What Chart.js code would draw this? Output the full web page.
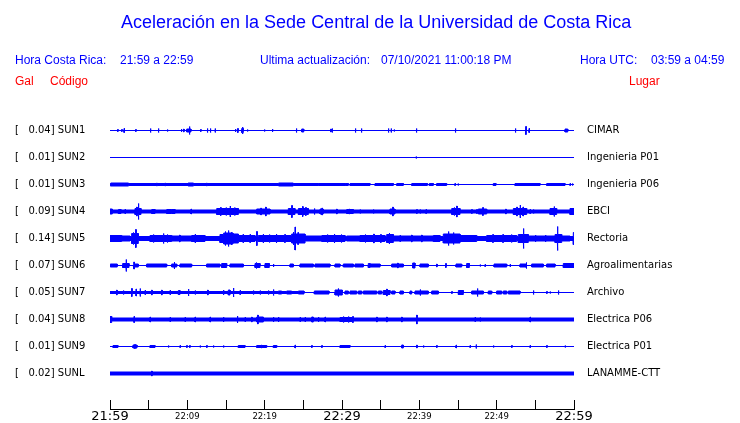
<!DOCTYPE html>
<html>
<head>
<meta charset="utf-8">
<script src="https://cdn.jsdelivr.net/npm/chart.js@4/dist/chart.umd.min.js"></script>
<style>
  body { margin: 0; background: #fff; }
  #wrap { position: relative; width: 740px; height: 423px; overflow: hidden; }
  #plot { position: absolute; left: 0; top: 0; }
  .t { position: absolute; white-space: nowrap; font-family: "Liberation Sans", Arial, sans-serif; line-height: 1; }
  .blue { color: #0000ff; }
  .red { color: #ff0000; }
  .s { font-size: 12px; }
</style>
</head>
<body>
<div id="wrap">
  <canvas id="plot" width="740" height="428"></canvas>
  <div class="t blue" style="left:121px; top:13px; font-size:18px;">Aceleración en la Sede Central de la Universidad de Costa Rica</div>
  <div class="t blue s" style="left:15px; top:54px;">Hora Costa Rica:</div>
  <div class="t blue s" style="left:120px; top:54px;">21:59 a 22:59</div>
  <div class="t blue s" style="left:260px; top:54px;">Ultima actualización:</div>
  <div class="t blue s" style="left:381px; top:54px;">07/10/2021 11:00:18 PM</div>
  <div class="t blue s" style="left:580px; top:54px;">Hora UTC:</div>
  <div class="t blue s" style="left:651px; top:54px;">03:59 a 04:59</div>
  <div class="t red s" style="left:15px; top:75px;">Gal</div>
  <div class="t red s" style="left:50px; top:75px;">Código</div>
  <div class="t red s" style="left:629px; top:75px;">Lugar</div>
</div>
<script>
// estaciones, de arriba hacia abajo
const stations = ['SUN1', 'SUN2', 'SUN3', 'SUN4', 'SUN5', 'SUN6', 'SUN7', 'SUN8', 'SUN9', 'SUNL'];
const maxGal = ['0.04', '0.01', '0.01', '0.09', '0.14', '0.07', '0.05', '0.04', '0.01', '0.02'];
const places = ['CIMAR', 'Ingenieria P01', 'Ingenieria P06', 'EBCI', 'Rectoria',
  'Agroalimentarias', 'Archivo', 'Electrica P06', 'Electrica P01', 'LANAMME-CTT'];

// eje de tiempo en minutos desde 21:59
const timeTicks = [0, 10, 20, 30, 40, 50, 60];
const timeLabels = ['21:59', '22:09', '22:19', '22:29', '22:39', '22:49', '22:59'];
const bigTicks = [0, 30, 60];

// nivel de ruido de fondo (media amplitud) de cada traza
const noise = [0, 0, 0, 1.5, 2, 0, 0, 1.5, 0, 1.5];

// envolvente: [minuto, amplitud] o [desde, hasta, amplitud]
const evSUN1 = [[0.99, 1], [1.51, 1], [1.81, 2], [3.32, 1], [5.22, 2], [6.25, 2], [7.41, 1], [9.22, 1.5], [9.52, 1.5],
  [9.92, 10.47, 1.5], [10.26, 4], [11.72, 1], [12.58, 2], [12.97, 2], [13.58, 2], [16.21, 1.5], [16.51, 2],
  [17.03, 17.24, 2], [17.12, 3.5], [17.76, 1], [19.96, 1], [20.99, 1.5], [24.09, 2], [24.79, 25.05, 1.5],
  [28.54, 1.5], [28.71, 2], [31.72, 2], [32.5, 2], [35.99, 2], [36.34, 2], [36.73, 1], [39.61, 2], [44.65, 2],
  [52.41, 2], [53.76, 4], [54.18, 2], [58.84, 59.19, 1.5]];
const evSUN2 = [[39.57, 1]];
const evSUN3 = [[0, 30.4, 1], [0.1, 2.4, 1.5], [6.04, 1.5], [7.1, 1.5], [10.1, 10.8, 1.5], [12.5, 1.5], [21.8, 23.7, 1.5],
  [26.9, 1.5], [29.74, 30.82, 1], [31.04, 33.62, 1], [34.27, 36.64, 1], [37.08, 37.93, 1], [39.02, 41.04, 1],
  [41.29, 41.81, 1], [42.24, 43.53, 1], [44.6, 1], [45.0, 1], [49.57, 49.91, 1], [52.37, 55.61, 1],
  [56.47, 58.84, 1], [59.48, 1], [59.78, 1]];
const evSUN4 = [[0, 0.3, 2.5], [1.08, 1.42, 2], [1.94, 2.5], [3.23, 4.01, 3], [3.66, 8], [3.45, 4.5], [5.39, 5.82, 2],
  [7.33, 8.41, 2], [7.9, 2.5], [10.47, 2.5], [13.8, 16.6, 3], [14.3, 4], [15.0, 4], [15.52, 5.5], [16.1, 4],
  [18.97, 20.69, 2.5], [19.5, 3.5], [20.13, 4.5], [23.06, 23.92, 3], [23.5, 6], [24.36, 25.65, 3], [24.9, 5],
  [25.3, 4], [26.42, 3], [27.16, 27.58, 2.5], [27.4, 3.5], [29.31, 2.5], [30.6, 31.47, 2], [30.9, 2.5], [32.33, 2],
  [34.05, 2], [36.2, 36.85, 2.5], [36.56, 4.5], [39.66, 2], [40.09, 2], [40.86, 2], [44.19, 45.26, 3], [44.83, 5.5],
  [44.5, 4], [46.77, 2], [47.42, 2], [47.63, 48.71, 2.5], [48.2, 4], [51.17, 2.5], [52.16, 53.88, 3], [52.6, 4.5],
  [53.02, 6.5], [53.4, 4.5], [54.31, 2], [54.74, 2], [56.9, 57.76, 3], [57.42, 5], [59.48, 60, 3]];
const evSUN5 = [[0, 1.51, 3], [1.51, 2.59, 2.5], [2.8, 3.66, 5], [3.0, 6], [3.32, 9], [5.17, 7.98, 3], [5.6, 4],
  [6.9, 5], [7.4, 4], [7.98, 10.56, 2.5], [9.0, 3.5], [10.56, 12.28, 3], [11.0, 4.5], [14.22, 14.7, 4],
  [14.7, 15.9, 5.5], [15.9, 16.6, 4.5], [14.9, 7], [15.3, 8], [15.7, 6.5], [16.6, 18.75, 3], [17.2, 4.5], [18.1, 4],
  [18.97, 7], [19.18, 23.49, 3], [19.8, 4.5], [20.6, 4], [21.5, 4.5], [22.6, 4], [23.49, 25.22, 4.5], [23.7, 6.5],
  [23.92, 11.5], [24.3, 6], [25.22, 27.4, 2.5], [27.4, 30.39, 3], [28.1, 4], [29.0, 4.5], [29.9, 4],
  [30.6, 32.33, 2.5], [32.33, 35.56, 3], [33.0, 4], [34.1, 4.5], [35.0, 4], [35.78, 36.64, 4], [36.1, 5.5],
  [36.64, 41.81, 2.5], [37.5, 3.5], [39.0, 3.5], [40.3, 3.5], [41.81, 42.67, 3], [43.1, 45.26, 4.5], [43.75, 7],
  [44.4, 6], [45.26, 47.42, 3], [48.71, 52.59, 3], [49.5, 4], [50.8, 4], [51.9, 4], [52.8, 54.09, 4], [53.45, 10],
  [54.09, 57.55, 2.5], [55.0, 3.5], [56.3, 3.5], [57.55, 58.41, 4], [57.85, 12], [58.41, 59.48, 2.5], [59.91, 60, 6]];
const evSUN6 = [[0.04, 0.94, 1.5], [1.64, 2.46, 2], [2.07, 6], [3.01, 3.66, 1.5], [3.1, 3.5], [4.74, 7.33, 1.5],
  [7.98, 8.63, 1.5], [8.3, 3.5], [9.05, 10.56, 1.5], [12.5, 14.22, 1.5], [14.44, 15.09, 2], [15.52, 17.24, 1.5],
  [18.75, 19.4, 2], [18.9, 3], [20.04, 20.6, 2], [21.12, 1.5], [23.28, 23.71, 1.5], [24.57, 26.29, 1.5],
  [26.51, 28.45, 1.5], [29.1, 29.74, 1.5], [30.17, 31.47, 1.5], [31.68, 32.76, 1.5], [33.4, 33.62, 2],
  [33.62, 34.92, 1.5], [36.43, 37.93, 1.5], [37.2, 2.5], [39.14, 39.44, 2.5], [40.09, 41.16, 1.5], [42.24, 1.5],
  [43.41, 2], [44.74, 45.48, 1.5], [46.12, 46.47, 2], [47.85, 1], [48.49, 1], [49.66, 51.3, 1.5], [51.73, 1.5],
  [53.02, 53.88, 1.5], [53.8, 3], [54.53, 56.03, 1.5], [56.47, 57.55, 1.5], [58.62, 60, 2]];
const evSUN7 = [[0, 24.96, 1], [0.86, 2.5], [1.72, 2], [2.8, 4], [3.36, 3.5], [3.88, 4], [4.53, 2.5], [5.39, 2.5],
  [6.68, 2.5], [7.76, 2.5], [8.84, 9.05, 2], [10.13, 3.5], [11.0, 2], [12.63, 2.5], [14.66, 2.5], [15.3, 15.52, 2.5],
  [15.95, 4.5], [16.81, 2], [18.53, 2], [19.4, 2], [20.47, 2], [21.12, 3], [21.77, 22.2, 1.5], [22.85, 23.49, 1.5],
  [24.36, 25.09, 1.5], [26.42, 28.32, 1.5], [29.1, 30.04, 2.5], [29.5, 4], [30.39, 30.82, 1.5], [31.04, 31.9, 1.5],
  [32.11, 32.55, 1.5], [32.76, 34.49, 1.5], [34.7, 35.13, 1.5], [35.34, 36.21, 2], [35.78, 3.5], [36.43, 36.85, 1.5],
  [37.5, 37.93, 1.5], [38.79, 39.01, 1.5], [39.44, 41.16, 1.5], [40.1, 3], [41.6, 42.46, 1.5], [44.19, 1],
  [45.05, 45.69, 2], [46.77, 48.28, 1.5], [47.5, 4], [48.92, 49.36, 1.5], [50.0, 50.65, 1.5], [50.86, 51.3, 1.5],
  [51.51, 53.02, 1.5], [54.74, 2], [56.47, 1], [56.9, 1], [57.97, 2]];
const evSUN8 = [[0, 0.22, 3], [3.1, 3], [5.17, 2.5], [7.76, 2.5], [9.7, 2.5], [10.99, 2.5], [12.93, 2.5], [14.66, 2.5],
  [16.46, 3.5], [17.46, 2.5], [18.32, 2.5], [18.97, 19.83, 2.5], [19.1, 4.5], [21.12, 2.5], [21.77, 2.5], [24.57, 2.5],
  [25.22, 2.5], [26.08, 26.29, 2.5], [26.94, 2.5], [27.8, 2.5], [29.74, 31.47, 2], [30.17, 3], [30.82, 3],
  [31.38, 3], [34.49, 2.5], [35.78, 2.5], [37.72, 2.5], [39.66, 4.5], [47.2, 2.5], [47.85, 2], [54.31, 2.5]];
const evSUN9 = [[0.39, 1.03, 1], [2.97, 3.49, 1.5], [3.2, 2], [5.17, 5.82, 1], [7.54, 1], [9.05, 1], [9.92, 1],
  [10.3, 1], [11.64, 1], [12.5, 1], [13.36, 1], [14.66, 1], [16.59, 17.46, 1], [18.97, 20.26, 1], [19.6, 1.5],
  [21.12, 21.56, 1], [23.92, 1.5], [26.08, 1], [27.38, 1], [29.74, 31.04, 1], [35.56, 1], [37.72, 37.93, 1.5],
  [39.66, 1.5], [40.52, 1], [42.24, 1], [44.74, 1.5], [46.55, 1], [47.33, 2], [49.57, 1], [51.94, 1], [54.31, 1],
  [56.47, 1], [58.84, 1]];
const evSUNL = [[5.39, 2.5]];

const traces = [evSUN1, evSUN2, evSUN3, evSUN4, evSUN5, evSUN6, evSUN7, evSUN8, evSUN9, evSUNL];

const BLUE = '#0000ff';
const ROW0 = 14.5, ROW_GAP = 27;   // filas en px dentro del area
const SPIKE = 0.06;                 // ancho minimo de un pico, en minutos
const rowCenter = i => ROW0 + ROW_GAP * i;

// envolvente escalonada: [x, amplitud] en cada corte
function envelope(i) {
  const segs = traces[i].map(e => e.length === 2 ? [e[0], Math.min(60, e[0] + SPIKE), e[1]] : e);
  let cuts = [0, 60];
  segs.forEach(s => cuts.push(s[0], s[1]));
  cuts = [...new Set(cuts)].sort((a, b) => a - b);
  const pts = [];
  for (let k = 0; k < cuts.length - 1; k++) {
    const mid = (cuts[k] + cuts[k + 1]) / 2;
    let a = noise[i];
    segs.forEach(s => { if (s[0] <= mid && mid < s[1]) a = Math.max(a, s[2]); });
    pts.push([cuts[k], a], [cuts[k + 1], a]);
  }
  return pts;
}

// cada traza: borde superior e inferior, rellenos hacia el centro (con medio px de traslape)
const datasets = [];
stations.forEach((name, i) => {
  const c = rowCenter(i);
  const env = envelope(i);
  [-1, 1].forEach(sign => {
    datasets.push({
      label: name,
      data: env.map(p => ({ x: p[0], y: c + sign * p[1] })),
      borderColor: BLUE,
      backgroundColor: BLUE,
      borderWidth: 1,
      pointRadius: 0,
      tension: 0,
      fill: { value: c - sign * 0.5 }
    });
  });
});

const rowTicks = scale => { scale.ticks = stations.map((s, i) => ({ value: rowCenter(i) })); };
const labelFont = { family: 'DejaVu Sans', size: 10 };

new Chart(document.getElementById('plot'), {
  type: 'line',
  data: { datasets: datasets },
  options: {
    responsive: false,
    animation: false,
    events: [],
    layout: { padding: { left: 15, right: 0, top: 116, bottom: 0 } },
    plugins: { legend: { display: false }, tooltip: { enabled: false } },
    scales: {
      x: {
        type: 'linear',
        min: 0,
        max: 60,
        afterFit: scale => { scale.height = 14; },
        border: { display: true, color: '#000', width: 1 },
        grid: { display: true, drawOnChartArea: false, drawTicks: true, tickLength: -9, color: '#000' },
        ticks: {
          stepSize: 5,
          autoSkip: false,
          maxRotation: 0,
          padding: 9,
          color: '#000',
          font: ctx => ({
            family: 'DejaVu Sans',
            size: ctx.tick && bigTicks.includes(ctx.tick.value) ? 13 : 8.5,
            lineHeight: '15px'
          }),
          callback: v => {
            const k = timeTicks.indexOf(v);
            return k >= 0 ? timeLabels[k] : '';
          }
        }
      },
      y: {
        type: 'linear',
        position: 'left',
        min: 0,
        max: 293,
        reverse: true,
        afterBuildTicks: rowTicks,
        afterFit: scale => { scale.width = 95; },
        border: { display: false },
        grid: { display: false, drawTicks: false },
        ticks: {
          crossAlign: 'far',
          padding: 0,
          color: '#000',
          font: labelFont,
          callback: (v, i) => '[   ' + maxGal[i] + '] ' + stations[i]
        }
      },
      y2: {
        type: 'linear',
        position: 'right',
        min: 0,
        max: 293,
        reverse: true,
        afterBuildTicks: rowTicks,
        afterFit: scale => { scale.width = 166; },
        border: { display: false },
        grid: { display: false, drawTicks: false },
        ticks: {
          crossAlign: 'near',
          padding: 13,
          color: '#000',
          font: labelFont,
          callback: (v, i) => places[i]
        }
      }
    }
  }
});
</script>
</body>
</html>
